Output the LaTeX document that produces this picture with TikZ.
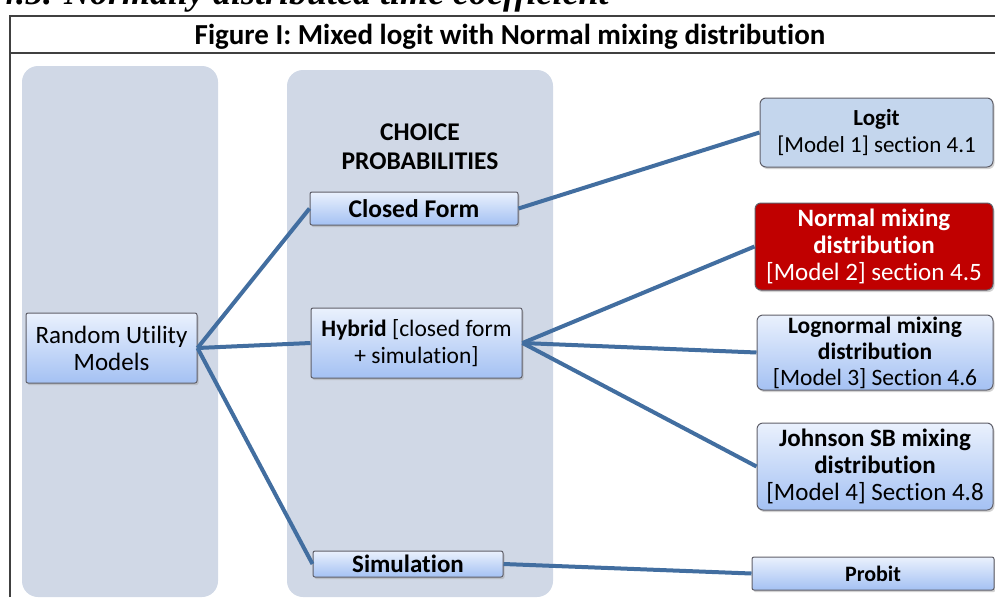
\documentclass[tikz,border=0pt]{standalone}
\usepackage{fontspec}
\setmainfont{Carlito}[Ligatures=NoCommon]
\newfontfamily\headfont{Liberation Serif}
\usetikzlibrary{shadows}
\definecolor{panelcolor}{RGB}{208,216,230}
\definecolor{boxtop}{RGB}{234,241,253}
\definecolor{boxbottom}{RGB}{164,193,243}
\definecolor{logitcolor}{RGB}{196,214,237}
\definecolor{normalcolor}{RGB}{192,0,0}
\definecolor{linkcolor}{RGB}{66,110,160}
\definecolor{boxborder}{RGB}{95,95,105}
\tikzset{
    panel/.style={rectangle, fill=panelcolor, rounded corners=16pt},
    block/.style={rectangle, draw=boxborder, line width=1pt, rounded corners=2pt,
        top color=boxtop, bottom color=boxbottom, align=center, inner sep=0pt,
        font=\boxfont, drop shadow={shadow xshift=1.5pt, shadow yshift=-2pt, fill=black!35}},
    modelblock/.style={block, rounded corners=6pt},
    link/.style={draw=linkcolor, line width=4pt}
}
\newcommand{\boxfont}{\fontsize{25}{27}\selectfont}

\begin{document}
\begin{tikzpicture}[x=1pt, y=-1pt]

    \clip (0,0) rectangle (995,597);

    % cut-off heading above the figure
    \node[anchor=base west, inner sep=0pt, font=\headfont\bfseries\itshape\fontsize{36}{38}\selectfont] (heading) at (-2,5) {4.5. Normally distributed time coefficient};

    % figure frame and title
    \draw[line width=1.2pt, black!75] (10,597) -- (10,16) -- (1000,16);
    \draw[line width=1.6pt, black!75] (10,53) -- (1000,53);
    \node[font=\bfseries\fontsize{29}{32}\selectfont] (title) at (510,37) {Figure I: Mixed logit with Normal mixing distribution};

    % background columns
    \fill[panel] (22,66) rectangle (218,597);
    \fill[panel] (287,70) rectangle (553,597);

    \node[align=center, font=\bfseries\fontsize{25.5}{29}\selectfont] (choice) at (420,147) {CHOICE\\PROBABILITIES};

    \node[block, minimum width=171pt, minimum height=70pt] (rum) at (111.5,348) {Random Utility\\Models};

    \node[block, font=\bfseries\fontsize{25.5}{27}\selectfont, minimum width=208pt, minimum height=33pt] (closed) at (414,208.5) {Closed Form};
    \node[block, font=\fontsize{23.5}{27}\selectfont, minimum width=211pt, minimum height=70pt] (hybrid) at (416.5,343) {\textbf{Hybrid} [closed form\\{+ simulation]}};
    \node[block, font=\bfseries\fontsize{25}{27}\selectfont, minimum width=190pt, minimum height=26pt] (sim) at (408,564) {Simulation};

    \node[modelblock, font=\fontsize{23}{27}\selectfont, top color=logitcolor, bottom color=logitcolor, minimum width=233pt, minimum height=69pt] (logit) at (876.5,132.5) {\textbf{Logit}\\{[Model 1] section 4.1}};
    \node[modelblock, top color=normalcolor, bottom color=normalcolor, text=white, minimum width=238pt, minimum height=87pt] (normal) at (874,246.5) {\textbf{Normal mixing}\\\textbf{distribution}\\{[Model 2] section 4.5}};
    \node[modelblock, font=\fontsize{23.5}{26}\selectfont, minimum width=236pt, minimum height=75pt] (lognormal) at (875,352.5) {\textbf{Lognormal mixing}\\\textbf{distribution}\\{[Model 3] Section 4.6}};
    \node[modelblock, minimum width=236pt, minimum height=87pt] (johnson) at (875,466.5) {\textbf{Johnson SB mixing}\\\textbf{distribution}\\{[Model 4] Section 4.8}};
    \node[block, font=\bfseries\fontsize{22}{24}\selectfont, minimum width=242pt, minimum height=33pt] (probit) at (873,573.5) {Probit};

    \draw[link] (rum.east) -- (closed.west);
    \draw[link] (rum.east) -- (hybrid.west);
    \draw[link] (rum.east) -- (sim.west);
    \draw[link] (closed.east) -- (logit.west);
    \draw[link] (hybrid.east) -- (normal.west);
    \draw[link] (hybrid.east) -- (lognormal.west);
    \draw[link] (hybrid.east) -- (johnson.west);
    \draw[link] (sim.east) -- (probit.west);

\end{tikzpicture}
\end{document}
